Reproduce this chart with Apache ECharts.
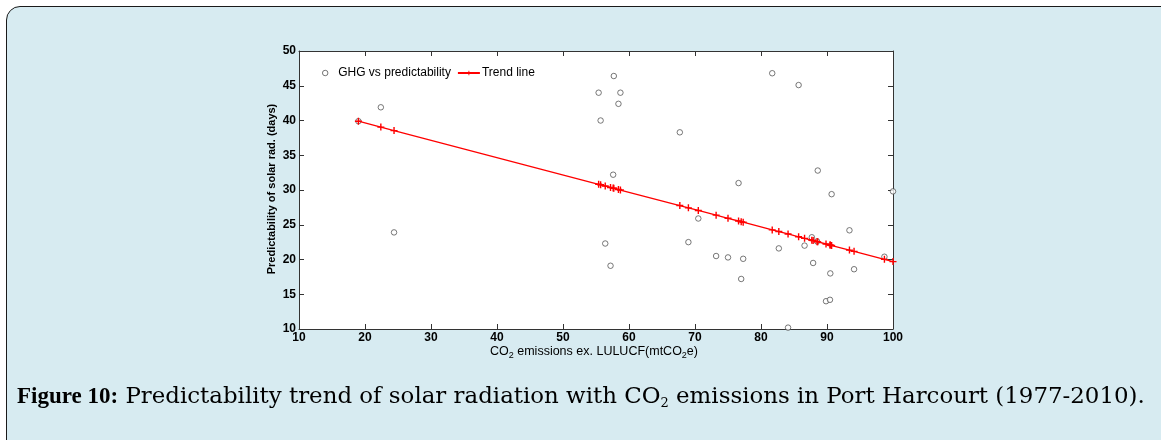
<!DOCTYPE html>
<html>
<head>
<meta charset="utf-8">
<script src="https://cdn.jsdelivr.net/npm/echarts@6/dist/echarts.min.js"></script>
<style>
html,body{margin:0;padding:0;background:#fff;overflow:hidden;}
#box{position:absolute;left:6px;top:6px;width:1200px;height:500px;border:1.5px solid #1a1a1a;border-radius:14px;background:#d7ebf1;}
#chart{position:absolute;left:0;top:0;width:1161px;height:440px;}
</style>
</head>
<body>
<div id="box"></div>
<div id="chart"></div>
<script>
// CO2 emissions ex. LULUCF (mtCO2e)
const co2 = [19.0, 22.4, 24.4, 55.4, 55.7, 56.4, 57.2, 57.6, 57.7, 58.4, 58.7, 67.7, 69.0, 70.5, 73.2, 75.0, 76.6, 77.0, 77.3, 81.7, 82.7, 84.1, 85.7, 86.6, 87.7, 87.9, 88.5, 88.6, 89.85, 90.45, 90.5, 90.7, 93.4, 94.1, 98.7, 100.0];
// Predictability of solar radiation (days)
const predictability = [39.9, 41.9, 23.9, 44.0, 40.0, 22.3, 19.1, 32.2, 46.4, 42.4, 44.0, 38.3, 22.5, 25.9, 20.5, 20.3, 31.0, 17.2, 20.1, 46.8, 21.6, 10.2, 45.1, 22.0, 23.2, 19.5, 22.6, 32.8, 14.0, 14.2, 18.0, 29.4, 24.2, 18.6, 20.4, 29.8];
// Trend line values read at the same CO2 values
const trend = [39.90, 39.05, 38.55, 30.82, 30.75, 30.57, 30.37, 30.27, 30.25, 30.07, 30.00, 27.76, 27.43, 27.06, 26.38, 25.93, 25.54, 25.44, 25.36, 24.26, 24.02, 23.67, 23.27, 23.04, 22.77, 22.72, 22.57, 22.54, 22.23, 22.08, 22.07, 22.02, 21.35, 21.17, 20.02, 19.70];
const xTicks = [10, 20, 30, 40, 50, 60, 70, 80, 90, 100];
const yTicks = [10, 15, 20, 25, 30, 35, 40, 45, 50];

const scatterData = co2.map((x, i) => [x, predictability[i]]);
const trendData = co2.map((x, i) => [x, trend[i]]);

const chart = echarts.init(document.getElementById('chart'), null, {renderer: 'canvas'});
const axisCol = '#333';
const tickFont = {color: '#000', fontFamily: 'Liberation Sans', fontWeight: 'bold', fontSize: 12};
const plus = 'path://M2,0H3V2H5V3H3V5H2V3H0V2H2Z';
const ringStyle = {color: '#fff', borderColor: '#444', borderWidth: 0.9};

chart.setOption({
  backgroundColor: 'transparent',
  animation: false,
  grid: {left: 299, right: 268, top: 51, bottom: 111, show: true, backgroundColor: '#fff', borderWidth: 0},
  xAxis: [{
    type: 'value', min: xTicks[0], max: xTicks[xTicks.length - 1], interval: 10,
    axisLine: {lineStyle: {color: axisCol, width: 1}},
    axisTick: {inside: true, length: 5, lineStyle: {color: axisCol}},
    axisLabel: Object.assign({margin: 3}, tickFont),
    splitLine: {show: false}
  }, {
    type: 'value', position: 'top', min: xTicks[0], max: xTicks[xTicks.length - 1], interval: 10,
    axisLine: {show: true, lineStyle: {color: axisCol, width: 1}},
    axisTick: {inside: true, length: 5, lineStyle: {color: axisCol}},
    axisLabel: {show: false}, splitLine: {show: false}
  }],
  yAxis: [{
    type: 'value', min: yTicks[0], max: yTicks[yTicks.length - 1], interval: 5,
    axisLine: {show: true, lineStyle: {color: axisCol, width: 1}},
    axisTick: {show: true, inside: true, length: 5, lineStyle: {color: axisCol}},
    axisLabel: Object.assign({margin: 3}, tickFont),
    splitLine: {show: false}
  }, {
    type: 'value', position: 'right', min: yTicks[0], max: yTicks[yTicks.length - 1], interval: 5,
    axisLine: {show: true, lineStyle: {color: axisCol, width: 1}},
    axisTick: {show: true, inside: true, length: 5, lineStyle: {color: axisCol}},
    axisLabel: {show: false}, splitLine: {show: false}
  }],
  legend: {
    left: 317, top: 62, itemWidth: 22, itemHeight: 5.5, itemGap: 6,
    textStyle: {fontFamily: 'Liberation Sans', fontSize: 12, color: '#000', padding: [0, 0, 0, -3]},
    data: [
      {name: 'GHG vs predictability', icon: 'circle', itemStyle: ringStyle},
      {name: 'Trend line'}
    ]
  },
  series: [{
    name: 'GHG vs predictability', type: 'scatter', data: scatterData,
    symbol: 'circle', symbolSize: 5.5,
    itemStyle: ringStyle,
    z: 2
  }, {
    name: 'Trend line', type: 'line', data: trendData,
    symbol: plus, symbolSize: 7, showSymbol: true,
    lineStyle: {color: '#ff0000', width: 1.3},
    itemStyle: {color: '#ff0000', borderWidth: 0},
    z: 3
  }],
  graphic: [{
    type: 'text', rotation: Math.PI / 2,
    position: [272, 189],
    style: {
      text: 'Predictability of solar rad. (days)',
      fontFamily: 'Liberation Sans', fontWeight: 'bold', fontSize: 11, fill: '#000',
      textAlign: 'center', textVerticalAlign: 'middle'
    }
  }, {
    type: 'text', position: [594, 352],
    style: {
      rich: {
        n: {fontFamily: 'Liberation Sans', fontSize: 12.5, fill: '#000', color: '#000'},
        s: {fontFamily: 'Liberation Sans', fontSize: 9, fill: '#000', color: '#000', padding: [8, 0, 0, 0]}
      },
      text: '{n|CO}{s|2}{n| emissions ex. LULUCF(mtCO}{s|2}{n|e)}',
      textAlign: 'center', textVerticalAlign: 'middle'
    }
  }, {
    type: 'text', position: [17, 397],
    style: {
      rich: {
        b: {fontFamily: 'Liberation Serif', fontWeight: 'bold', fontSize: 23, fill: '#000', color: '#000'},
        n: {fontFamily: 'DejaVu Serif', fontSize: 22.9, fill: '#000', color: '#000'},
        s: {fontFamily: 'DejaVu Serif', fontSize: 13, fill: '#000', color: '#000', padding: [14, 0, 0, 0]}
      },
      text: '{b|Figure 10:}{n| Predictability trend of solar radiation with CO}{s|2}{n| emissions in Port Harcourt (1977-2010).}',
      textAlign: 'left', textVerticalAlign: 'middle'
    }
  }]
});
</script>
</body>
</html>
